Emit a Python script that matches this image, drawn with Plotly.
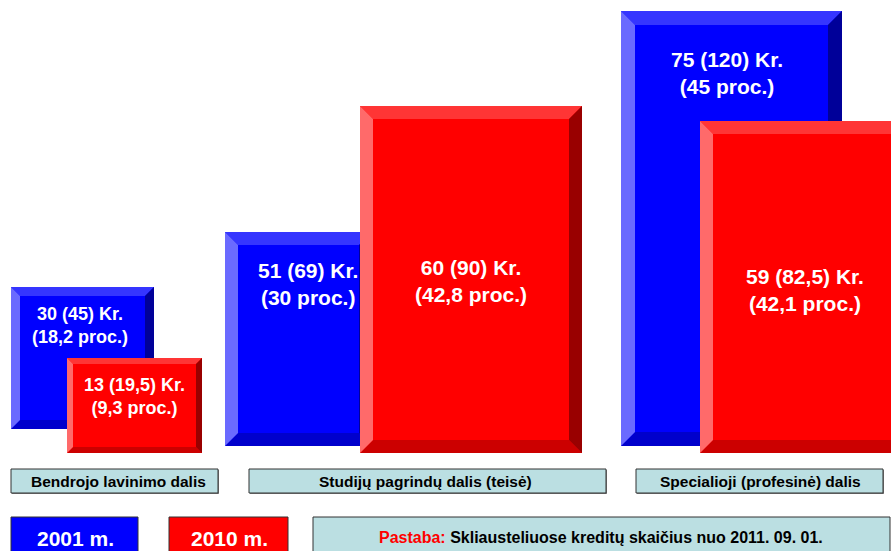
import plotly.graph_objects as go

# ---------------- data ----------------
categories = ["Bendrojo lavinimo dalis", "Studijų pagrindų dalis (teisė)", "Specialioji (profesinė) dalis"]
years = ["2001 m.", "2010 m."]
credits_2001 = ["30", "51", "75"]
credits_2001_new = ["45", "69", "120"]
percent_2001 = ["18,2", "30", "45"]
credits_2010 = ["13", "60", "59"]
credits_2010_new = ["19,5", "90", "82,5"]
percent_2010 = ["9,3", "42,8", "42,1"]
note_label = "Pastaba:"
note_text = "Skliausteliuose kreditų skaičius nuo 2011. 09. 01."

# ---------------- layout geometry (pixel-like data units) ----------------
W, H = 891, 551
# (x0, x1, top, bottom, bevel) for each box
geom_2001 = [(11, 154, 287, 429, 9), (225, 372, 232, 446, 13), (621, 842, 11, 446, 14)]
geom_2010 = [(67, 202, 358, 453, 6), (360, 582, 106, 453, 13), (700, 922, 121, 453, 13)]
text_2001 = [(80, 325, 18), (308, 284, 21), (727, 73, 21)]
text_2010 = [(134, 396, 18), (471, 281, 21), (805, 290, 21)]
cat_boxes = [(11, 218), (249, 606), (636, 883)]
cat_y = (469, 493)
cat_text_x = [118, 425, 760]

pal = {
    "blue": dict(face="#0000FF", top="#3535FF", left="#6A6AFF", right="#000099", bottom="#0000CC"),
    "red": dict(face="#FF0000", top="#FF3535", left="#FF6A6A", right="#990000", bottom="#CC0000"),
}

shapes = []
annotations = []


def poly(pts, color):
    d = "M " + " L ".join(f"{x},{y}" for x, y in pts) + " Z"
    return dict(type="path", path=d, xref="x", yref="y", fillcolor=color,
                line=dict(width=0), layer="above")


def bevel_box(x0, x1, y0, y1, b, c):
    shapes.append(poly([(x0, y0), (x1, y0), (x1, y1), (x0, y1)], c["face"]))
    shapes.append(poly([(x0, y0), (x1, y0), (x1 - b, y0 + b), (x0 + b, y0 + b)], c["top"]))
    shapes.append(poly([(x0, y1), (x1, y1), (x1 - b, y1 - b), (x0 + b, y1 - b)], c["bottom"]))
    shapes.append(poly([(x0, y0), (x0 + b, y0 + b), (x0 + b, y1 - b), (x0, y1)], c["left"]))
    shapes.append(poly([(x1, y0), (x1 - b, y0 + b), (x1 - b, y1 - b), (x1, y1)], c["right"]))


FONT = "Arial, 'Liberation Sans', sans-serif"

for i in range(len(categories)):
    g = geom_2001[i]
    bevel_box(*g, pal["blue"])
    tx, ty, fs = text_2001[i]
    annotations.append(dict(x=tx, y=ty, xref="x", yref="y", showarrow=False,
                            text=f"<b>{credits_2001[i]} ({credits_2001_new[i]}) Kr.<br>({percent_2001[i]} proc.)</b>",
                            font=dict(family=FONT, size=fs, color="white"), align="center"))
    g = geom_2010[i]
    bevel_box(*g, pal["red"])
    tx, ty, fs = text_2010[i]
    annotations.append(dict(x=tx, y=ty, xref="x", yref="y", showarrow=False,
                            text=f"<b>{credits_2010[i]} ({credits_2010_new[i]}) Kr.<br>({percent_2010[i]} proc.)</b>",
                            font=dict(family=FONT, size=fs, color="white"), align="center"))

TEAL = "#BBDFE2"
# category label boxes
for i, (bx0, bx1) in enumerate(cat_boxes):
    shapes.append(dict(type="rect", xref="x", yref="y", x0=bx0 + 1, x1=bx1 + 1, y0=cat_y[0] + 1, y1=cat_y[1] + 1,
                       fillcolor="#808080", line=dict(width=0), layer="above"))
    shapes.append(dict(type="rect", xref="x", yref="y", x0=bx0, x1=bx1, y0=cat_y[0], y1=cat_y[1],
                       fillcolor=TEAL, line=dict(width=1, color="#333333"), layer="above"))
    annotations.append(dict(x=cat_text_x[i], y=(cat_y[0] + cat_y[1]) / 2, xref="x", yref="y", showarrow=False,
                            text=f"<b>{categories[i]}</b>",
                            font=dict(family=FONT, size=15.5, color="black")))

# legend boxes
leg = [(11, 138, "#0000FF", 75), (169, 288, "#FF0000", 229)]
for (lx0, lx1, col, tx), name in zip(leg, years):
    shapes.append(dict(type="rect", xref="x", yref="y", x0=lx0, x1=lx1, y0=517, y1=565,
                       fillcolor=col, line=dict(width=1, color="#333333"), layer="above"))
    annotations.append(dict(x=tx, y=538, xref="x", yref="y", showarrow=False,
                            text=f"<b>{name}</b>", font=dict(family=FONT, size=21, color="white")))

# note box
shapes.append(dict(type="rect", xref="x", yref="y", x0=313, x1=890, y0=517, y1=565,
                   fillcolor=TEAL, line=dict(width=1, color="#333333"), layer="above"))
annotations.append(dict(x=601, y=537, xref="x", yref="y", showarrow=False,
                        text=f"<b><span style='color:#FF0000'>{note_label}</span> {note_text}</b>",
                        font=dict(family=FONT, size=16, color="black")))

fig = go.Figure()
fig.add_trace(go.Scatter(x=[0, W], y=[0, H], mode="markers", marker=dict(opacity=0), hoverinfo="skip",
                         showlegend=False))
fig.update_layout(
    width=W, height=H,
    margin=dict(l=0, r=0, t=0, b=0),
    paper_bgcolor="white", plot_bgcolor="white",
    xaxis=dict(range=[0, W], visible=False, fixedrange=True),
    yaxis=dict(range=[H, 0], visible=False, fixedrange=True),
    shapes=shapes, annotations=annotations, showlegend=False,
)
fig.write_html("out.html", config=dict(displayModeBar=False),
               post_script="document.body.style.margin='0';document.body.style.overflow='hidden';")
